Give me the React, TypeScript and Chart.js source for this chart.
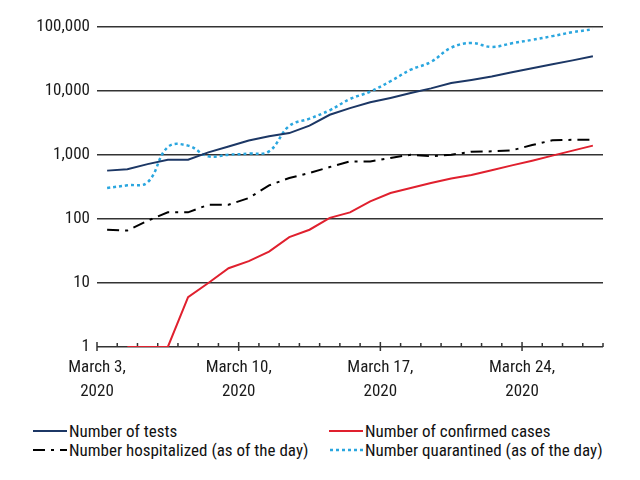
import React, { useEffect, useRef } from 'react';
import { Chart, registerables } from 'chart.js';

Chart.register(...registerables);

// Days from March 3 to March 27, 2020 (one value per day)
const days = [
  'Mar 3', 'Mar 4', 'Mar 5', 'Mar 6', 'Mar 7', 'Mar 8', 'Mar 9', 'Mar 10', 'Mar 11', 'Mar 12',
  'Mar 13', 'Mar 14', 'Mar 15', 'Mar 16', 'Mar 17', 'Mar 18', 'Mar 19', 'Mar 20', 'Mar 21', 'Mar 22',
  'Mar 23', 'Mar 24', 'Mar 25', 'Mar 26', 'Mar 27',
];
const xTickDays = [0, 7, 14, 21];
const xTickLabels = [
  ['March 3,', '2020'],
  ['March 10,', '2020'],
  ['March 17,', '2020'],
  ['March 24,', '2020'],
];
const yTickValues = [1, 10, 100, 1000, 10000, 100000];

const tests = [570, 600, 720, 845, 845, 1100, 1360, 1680, 1960, 2200, 2870, 4250, 5400, 6650, 7800, 9300, 11000, 13300, 14900, 16900, 19600, 22600, 26100, 30100, 34800];
const confirmed = [null, 1, 1, 1, 6, 10, 17, 22, 31, 52, 68, 104, 127, 189, 255, 305, 365, 430, 487, 576, 689, 815, 977, 1170, 1400];
const hospitalized = [68, 66, 94, 127, 127, 167, 167, 213, 335, 437, 523, 649, 795, 795, 900, 1010, 955, 1010, 1125, 1140, 1183, 1430, 1695, 1730, 1740];
const quarantined = [305, 336, 374, 1333, 1400, 953, 1011, 1050, 1140, 2850, 3700, 5000, 7500, 9800, 14200, 21500, 28500, 47500, 56200, 48700, 55600, 63000, 72000, 83000, 92000];

const seriesNames = [
  'Number of tests',
  'Number of confirmed cases',
  'Number hospitalized (as of the day)',
  'Number quarantined (as of the day)',
];
const seriesColors = ['#1c3765', '#e0202e', '#000000', '#2aa6df'];
const seriesDashes: number[][] = [[], [], [12, 6, 3, 6], [3, 3]];
const seriesWidths = [2, 2, 2, 2.5];
const seriesTension = [0, 0, 0, 0.4];

const FONT = "'Roboto Condensed', 'Liberation Sans', sans-serif";

const toPoints = (vals: (number | null)[]) =>
  vals.map((v, i) => ({ x: i + 0.5, y: v as number }));

const xTickMarks = {
  id: 'xTickMarks',
  beforeDatasetsDraw(chart: any) {
    const xs = chart.scales.x;
    const ctx = chart.ctx;
    const base = chart.chartArea.bottom;
    ctx.save();
    ctx.strokeStyle = '#333';
    ctx.lineWidth = 1.5;
    for (let d = 0; d <= days.length; d++) {
      const px = xs.getPixelForValue(d);
      const major = xTickDays.includes(d);
      ctx.beginPath();
      ctx.moveTo(px, major ? base - 5 : base - 4);
      ctx.lineTo(px, major ? base + 4 : base);
      ctx.stroke();
    }
    ctx.restore();
  },
};

function LegendItem({ idx, left, sampleW, top }: { idx: number; left: number; sampleW: number; top: number }) {
  return (
    <div style={{ position: 'absolute', left, top, height: 20, display: 'flex', alignItems: 'center', whiteSpace: 'nowrap' }}>
      <svg width={sampleW} height={20} style={{ display: 'block', marginRight: 2 }}>
        <line
          x1={0}
          y1={10}
          x2={sampleW}
          y2={10}
          stroke={seriesColors[idx]}
          strokeWidth={seriesWidths[idx]}
          strokeDasharray={seriesDashes[idx].length ? seriesDashes[idx].join(' ') : undefined}
        />
      </svg>
      <span style={{ fontFamily: FONT, fontSize: 17, lineHeight: '20px', color: '#111' }}>{seriesNames[idx]}</span>
    </div>
  );
}

export default function App() {
  const ref = useRef<HTMLCanvasElement | null>(null);

  useEffect(() => {
    if (!ref.current) return;
    const series = [tests, confirmed, hospitalized, quarantined];
    const chart = new Chart(ref.current, {
      type: 'line',
      data: {
        datasets: series.map((s, i) => ({
          label: seriesNames[i],
          data: toPoints(s),
          borderColor: seriesColors[i],
          backgroundColor: seriesColors[i],
          borderWidth: seriesWidths[i],
          borderDash: seriesDashes[i],
          tension: seriesTension[i],
          pointRadius: 0,
          fill: false,
          spanGaps: false,
        })),
      },
      plugins: [xTickMarks],
      options: {
        animation: false,
        responsive: false,
        maintainAspectRatio: false,
        layout: { padding: { left: 0, top: 27, right: 37, bottom: 0 } },
        plugins: {
          legend: { display: false },
          tooltip: { enabled: false },
        },
        scales: {
          x: {
            type: 'linear',
            min: 0,
            max: days.length,
            afterFit: (scale: any) => {
              scale.height = 63;
            },
            grid: { display: false, drawTicks: false },
            border: { display: false },
            ticks: {
              stepSize: 1,
              autoSkip: false,
              maxRotation: 0,
              padding: 8,
              color: '#1a1a1a',
              font: { family: FONT, size: 17, lineHeight: 1.45 },
              callback: (v: any) => {
                const k = xTickDays.indexOf(Number(v));
                return k >= 0 ? xTickLabels[k] : '';
              },
            },
          },
          y: {
            type: 'logarithmic',
            min: 1,
            max: 100000,
            afterFit: (scale: any) => {
              scale.width = 97;
            },
            afterBuildTicks: (scale: any) => {
              scale.ticks = yTickValues.map((v) => ({ value: v }));
            },
            grid: { color: '#333', lineWidth: 1.5, drawTicks: false },
            border: { display: false },
            ticks: {
              padding: 7,
              color: '#1a1a1a',
              font: { family: FONT, size: 17 },
              callback: (v: any) => Number(v).toLocaleString('en-US'),
            },
          },
        },
      },
    } as any);
    return () => chart.destroy();
  }, []);

  return (
    <div style={{ position: 'absolute', left: 0, top: 0, width: 640, height: 480, background: '#fff', overflow: 'hidden' }}>
      <canvas ref={ref} width={640} height={410} style={{ display: 'block', width: 640, height: 410 }} />
      <LegendItem idx={0} left={33} sampleW={34} top={421} />
      <LegendItem idx={1} left={329} sampleW={34} top={421} />
      <LegendItem idx={2} left={33} sampleW={34} top={440} />
      <LegendItem idx={3} left={330} sampleW={33} top={440} />
    </div>
  );
}
